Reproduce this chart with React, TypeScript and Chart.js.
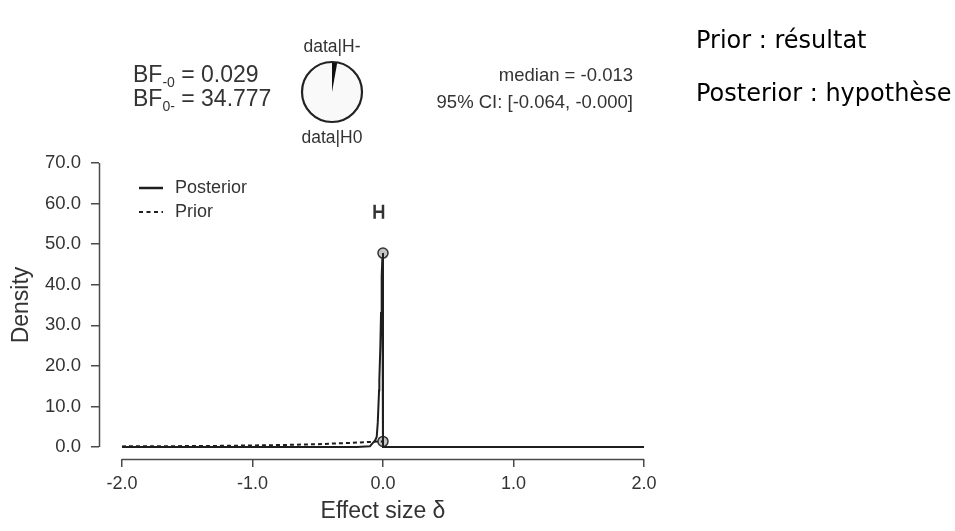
import React, { useEffect, useRef } from 'react';
import { Chart, registerables } from 'chart.js';

Chart.register(...registerables);

// ---- data ----
const xTickValues = [-2, -1, 0, 1, 2];
const yTickValues = [0, 10, 20, 30, 40, 50, 60, 70];

const priorX = [-2.0, -1.75, -1.5, -1.25, -1.0, -0.75, -0.5, -0.25, -0.1, 0.0, 0.0, 0.5, 1.0, 1.5, 2.0];
const priorY = [0.15, 0.18, 0.22, 0.28, 0.38, 0.5, 0.7, 1.0, 1.25, 1.37, 0, 0, 0, 0, 0];

const postX = [-2.0, -1.0, -0.5, -0.2, -0.1, -0.077, -0.06, -0.048, -0.04, -0.03, -0.028, -0.02, -0.015, -0.01, -0.005, 0.0, 0.0, 1.0, 2.0];
const postY = [0, 0, 0, 0, 0.2, 1.0, 1.6, 2.5, 6, 14, 16.5, 25, 33, 42, 46.5, 47.8, 0, 0, 0];

const pointX = [0, 0];
const pointY = [47.8, 1.37];

const ciLower = -0.064;
const ciUpper = 0.0;
const ciLevel = 58;

const bfMinus0 = 0.029;
const bfLabels = [
  { main: 'BF', sub: '-0', value: ' = 0.029' },
  { main: 'BF', sub: '0-', value: ' = 34.777' },
];
const summaryLines = ['median = -0.013', '95% CI: [-0.064, -0.000]'];
const pieLabels = ['data|H-', 'data|H0'];
const legendLabels = ['Posterior', 'Prior'];
const sideNotes = ['Prior : résultat', 'Posterior : hypothèse'];
const xTitle = 'Effect size δ';
const yTitle = 'Density';

// ---- layout / style ----
const W = 955;
const H = 531;
const FONT = '"Liberation Sans", Arial, sans-serif';
const INK = '#1e1e1e';
const TEXT = '#333';
const AXIS = '#4a4a4a';
const X_AXIS_MIN = -2.176; // leaves the JASP-style gap before the y axis line
const Y_AXIS_MIN = -2.96; // leaves the gap below the x axis line

const decor = {
  id: 'jaspDecor',
  beforeDatasetsDraw(chart: any) {
    const { ctx, chartArea, scales } = chart;
    const x = scales.x;
    const y = scales.y;
    ctx.save();
    ctx.strokeStyle = AXIS;
    ctx.lineWidth = 1.5;
    ctx.beginPath();
    ctx.moveTo(x.getPixelForValue(xTickValues[0]), chartArea.bottom + 0.5);
    ctx.lineTo(x.getPixelForValue(xTickValues[xTickValues.length - 1]), chartArea.bottom + 0.5);
    ctx.stroke();
    ctx.beginPath();
    ctx.moveTo(chartArea.left + 0.5, y.getPixelForValue(yTickValues[0]));
    ctx.lineTo(chartArea.left + 0.5, y.getPixelForValue(yTickValues[yTickValues.length - 1]));
    ctx.stroke();
    ctx.restore();
  },
  afterDraw(chart: any) {
    const { ctx, chartArea, scales } = chart;
    const x = scales.x;
    const y = scales.y;
    ctx.save();

    // axis titles
    ctx.fillStyle = TEXT;
    ctx.font = `23px ${FONT}`;
    ctx.textAlign = 'center';
    ctx.textBaseline = 'middle';
    ctx.fillText(xTitle, x.getPixelForValue(0), 512);
    ctx.save();
    ctx.translate(22, (y.getPixelForValue(0) + y.getPixelForValue(70)) / 2);
    ctx.rotate(-Math.PI / 2);
    ctx.fillText(yTitle, 0, 0);
    ctx.restore();

    // legend
    const lx = chartArea.left + 40;
    const legendY = [188, 212];
    ctx.strokeStyle = INK;
    ctx.lineWidth = 2.5;
    ctx.setLineDash([]);
    ctx.beginPath();
    ctx.moveTo(lx, legendY[0]);
    ctx.lineTo(lx + 24, legendY[0]);
    ctx.stroke();
    ctx.lineWidth = 2;
    ctx.setLineDash([4, 3.5]);
    ctx.beginPath();
    ctx.moveTo(lx, legendY[1]);
    ctx.lineTo(lx + 24, legendY[1]);
    ctx.stroke();
    ctx.setLineDash([]);
    ctx.fillStyle = TEXT;
    ctx.font = `18px ${FONT}`;
    ctx.textAlign = 'left';
    ctx.textBaseline = 'middle';
    legendLabels.forEach((t, i) => ctx.fillText(t, lx + 36, legendY[i]));

    // credible interval bar
    const cy = y.getPixelForValue(ciLevel);
    const c0 = x.getPixelForValue(ciLower);
    const c1 = x.getPixelForValue(ciUpper);
    ctx.strokeStyle = '#333';
    ctx.lineWidth = 2.5;
    ctx.beginPath();
    ctx.moveTo(c0, cy);
    ctx.lineTo(c1, cy);
    ctx.moveTo(c0, cy - 7);
    ctx.lineTo(c0, cy + 7);
    ctx.moveTo(c1, cy - 7);
    ctx.lineTo(c1, cy + 7);
    ctx.stroke();

    // Bayes factor text
    const bfBase = [82, 106];
    bfLabels.forEach((b, i) => {
      let cx = 133;
      ctx.fillStyle = TEXT;
      ctx.textAlign = 'left';
      ctx.textBaseline = 'alphabetic';
      ctx.font = `23px ${FONT}`;
      ctx.fillText(b.main, cx, bfBase[i]);
      cx += ctx.measureText(b.main).width;
      ctx.font = `14px ${FONT}`;
      ctx.fillText(b.sub, cx, bfBase[i] + 5);
      cx += ctx.measureText(b.sub).width;
      ctx.font = `23px ${FONT}`;
      ctx.fillText(b.value, cx, bfBase[i]);
    });

    // pie
    const px = 332;
    const py = 92;
    const pr = 30;
    const share = bfMinus0 / (1 + bfMinus0);
    ctx.fillStyle = '#f9f9f9';
    ctx.beginPath();
    ctx.arc(px, py, pr, 0, Math.PI * 2);
    ctx.fill();
    ctx.fillStyle = '#111';
    ctx.beginPath();
    ctx.moveTo(px, py);
    ctx.arc(px, py, pr, -Math.PI / 2, -Math.PI / 2 + Math.PI * 2 * share);
    ctx.closePath();
    ctx.fill();
    ctx.strokeStyle = '#222';
    ctx.lineWidth = 2.2;
    ctx.beginPath();
    ctx.arc(px, py, pr, 0, Math.PI * 2);
    ctx.stroke();
    ctx.fillStyle = TEXT;
    ctx.font = `17.5px ${FONT}`;
    ctx.textAlign = 'center';
    ctx.textBaseline = 'middle';
    ctx.fillText(pieLabels[0], px, 47);
    ctx.fillText(pieLabels[1], px, 138);

    // median / CI
    ctx.textAlign = 'right';
    ctx.textBaseline = 'alphabetic';
    ctx.font = `18.5px ${FONT}`;
    ctx.fillText(summaryLines[0], 633, 81);
    ctx.fillText(summaryLines[1], 633, 108);

    ctx.restore();
  },
};

export default function App() {
  const ref = useRef<HTMLCanvasElement>(null);

  useEffect(() => {
    const canvas = ref.current;
    if (!canvas) return;
    const toPts = (xs: number[], ys: number[]) => xs.map((v, i) => ({ x: v, y: ys[i] }));
    const chart = new Chart(canvas, {
      type: 'scatter',
      data: {
        datasets: [
          {
            label: 'Posterior',
            data: toPts(postX, postY),
            showLine: true,
            borderColor: INK,
            borderWidth: 2,
            pointRadius: 0,
            tension: 0,
          },
          {
            label: 'Prior',
            data: toPts(priorX, priorY),
            showLine: true,
            borderColor: INK,
            borderWidth: 2,
            borderDash: [4, 3],
            pointRadius: 0,
            tension: 0,
          },
          {
            label: 'points',
            data: toPts(pointX, pointY),
            showLine: false,
            pointRadius: 5,
            pointBackgroundColor: '#c4c4c4',
            pointBorderColor: '#333',
            pointBorderWidth: 1.5,
          },
        ],
      },
      options: {
        responsive: false,
        animation: false,
        devicePixelRatio: 1,
        layout: { padding: { left: 0, top: 163, right: W - 644, bottom: 0 } },
        plugins: { legend: { display: false }, tooltip: { enabled: false } },
        scales: {
          x: {
            type: 'linear',
            min: X_AXIS_MIN,
            max: 2,
            afterBuildTicks: (s: any) => {
              s.ticks = xTickValues.map((v) => ({ value: v }));
            },
            afterFit: (s: any) => {
              s.height = H - 459;
            },
            grid: { drawOnChartArea: false, drawTicks: true, tickLength: 8, color: AXIS, lineWidth: 1.5 },
            border: { display: false },
            ticks: {
              autoSkip: false,
              maxRotation: 0,
              padding: 6,
              color: TEXT,
              font: { family: FONT, size: 18 },
              callback: (v: any) => Number(v).toFixed(1),
            },
          },
          y: {
            type: 'linear',
            min: Y_AXIS_MIN,
            max: 70,
            afterBuildTicks: (s: any) => {
              s.ticks = yTickValues.map((v) => ({ value: v }));
            },
            afterFit: (s: any) => {
              s.width = 99;
            },
            grid: { drawOnChartArea: false, drawTicks: true, tickLength: 8, color: AXIS, lineWidth: 1.5 },
            border: { display: false },
            ticks: {
              autoSkip: false,
              padding: 10,
              color: TEXT,
              font: { family: FONT, size: 18.5 },
              callback: (v: any) => Number(v).toFixed(1),
            },
          },
        },
      },
      plugins: [decor],
    });
    return () => chart.destroy();
  }, []);

  return (
    <div style={{ position: 'absolute', left: 0, top: 0, width: W, height: H, background: '#fff' }}>
      <canvas ref={ref} width={W} height={H} style={{ display: 'block', width: W, height: H }} />
      {sideNotes.map((t, i) => (
        <div
          key={t}
          style={{
            position: 'absolute',
            left: 696,
            top: i === 0 ? 26 : 79,
            fontFamily: '"DejaVu Sans", sans-serif',
            fontSize: 24,
            lineHeight: '28px',
            color: '#000',
            whiteSpace: 'nowrap',
          }}
        >
          {t}
        </div>
      ))}
    </div>
  );
}
